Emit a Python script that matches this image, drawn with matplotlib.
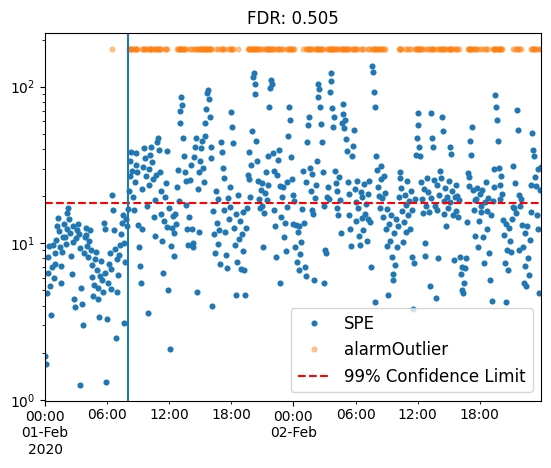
import numpy as np
import pandas as pd
import matplotlib
matplotlib.use('Agg')
import matplotlib.pyplot as plt
import matplotlib.dates as mdates
from matplotlib.ticker import FuncFormatter

start_time = '2020-02-01 00:00'
fault_time = '2020-02-01 08:00'
sample_step = '5min'
confidence_limit = 18.0
alarm_level = 175.0
fdr = 0.505

# SPE statistic, one row per hour (12 samples, every 5 minutes)
spe_values = [
    1.9, 1.7, 4.8, 6.5, 8.2, 9.6, 5.3, 3.5, 7.1, 9.8, 6.0, 7.4,
    8.6, 10.5, 12.8, 14.6, 11.9, 9.4, 7.2, 5.6, 8.8, 10.9, 13.3, 11.0,
    9.9, 12.4, 15.5, 16.8, 14.2, 11.6, 8.3, 6.4, 10.2, 12.9, 4.4, 3.9,
    10.8, 12.1, 13.2, 11.4, 9.3, 1.25, 5.2, 4.1, 3.0, 8.7, 10.9, 12.6,
    11.3, 9.6, 8.2, 10.4, 12.2, 9.0, 7.3, 6.1, 4.6, 5.4, 7.9, 8.8,
    6.7, 5.2, 4.4, 3.4, 6.2, 7.7, 5.8, 4.9, 13.5, 12.3, 6.5, 1.3,
    3.3, 5.6, 7.4, 8.6, 6.8, 5.1, 20.3, 16.4, 12.1, 9.2, 2.5, 7.9,
    4.9, 6.3, 8.4, 9.8, 11.5, 13.4, 15.2, 3.1, 10.1, 7.6, 14.3, 12.8,
    16.5, 21.4, 26.8, 33.5, 38.2, 29.1, 19.7, 16.2, 24.5, 31.8, 37.5, 28.6,
    13.1, 9.4, 7.2, 5.6, 12.4, 22.3, 30.5, 40.6, 35.2, 26.9, 17.4, 3.6,
    23.6, 29.8, 36.4, 41.2, 33.1, 25.7, 14.8, 11.2, 18.9, 27.3, 44.6, 47.2,
    39.5, 28.4, 21.6, 15.3, 10.4, 6.5, 13.8, 19.6, 24.2, 12.7, 38.8, 5.0,
    16.8, 2.1, 9.6, 12.5, 14.9, 8.3, 11.7, 15.4, 13.2, 22.8, 29.4, 18.6,
    58.4, 70.2, 85.6, 76.3, 47.1, 36.2, 28.5, 24.9, 17.6, 12.3, 9.7, 14.8,
    25.3, 31.7, 12.4, 10.1, 9.5, 35.6, 41.4, 46.8, 4.9, 22.1, 28.3, 11.8,
    33.7, 40.8, 45.2, 30.1, 24.6, 48.3, 58.7, 72.4, 90.5, 95.2, 83.6, 64.1,
    41.2, 35.0, 4.0, 16.1, 11.4, 8.7, 21.6, 13.5, 9.9, 19.2, 12.2, 7.4,
    44.6, 38.1, 30.4, 26.2, 16.3, 11.8, 8.4, 6.9, 19.5, 14.2, 22.7, 17.1,
    69.3, 55.1, 43.7, 12.6, 9.8, 4.7, 15.3, 7.6, 20.4, 10.7, 13.9, 6.8,
    11.5, 15.8, 8.9, 6.7, 4.7, 12.6, 16.9, 27.3, 38.5, 25.6, 19.8, 31.4,
    52.1, 115.4, 122.3, 104.6, 90.2, 44.8, 33.6, 25.1, 19.3, 16.7, 21.8, 17.2,
    24.3, 9.5, 15.6, 20.9, 28.4, 18.8, 23.5, 36.2, 73.8, 98.4, 110.2, 104.1,
    37.6, 29.1, 16.4, 12.8, 8.2, 27.4, 33.8, 39.2, 23.1, 5.6, 14.7, 19.6,
    22.8, 10.9, 13.4, 8.9, 17.1, 24.6, 48.2, 74.1, 61.5, 35.3, 25.9, 13.2,
    20.3, 18.7, 9.4, 13.1, 7.6, 11.8, 6.7, 12.9, 8.5, 10.2, 16.5, 28.9,
    13.4, 7.1, 6.2, 24.7, 44.5, 56.9, 64.2, 30.1, 21.4, 16.2, 27.6, 15.3,
    5.8, 19.4, 23.6, 33.4, 85.3, 104.7, 96.1, 74.2, 57.8, 44.6, 28.7, 17.3,
    5.6, 9.0, 8.7, 19.6, 22.9, 19.1, 92.8, 121.6, 108.4, 73.5, 55.2, 63.7,
    29.1, 24.3, 16.8, 21.7, 15.2, 26.4, 18.9, 11.6, 58.3, 77.6, 66.4, 54.7,
    61.2, 46.3, 38.8, 24.5, 20.7, 15.1, 12.4, 9.6, 36.1, 41.7, 52.8, 22.3,
    18.4, 13.8, 25.1, 16.9, 11.2, 9.8, 21.3, 14.6, 19.7, 12.1, 23.8, 15.4,
    17.9, 10.3, 20.6, 14.2, 24.9, 13.6, 7.0, 136.2, 123.4, 92.1, 74.5, 4.2,
    36.3, 29.4, 22.7, 20.1, 16.8, 31.2, 25.6, 19.4, 14.7, 26.8, 20.8, 12.3,
    16.6, 9.6, 4.7, 13.2, 10.4, 15.1, 8.2, 6.4, 5.8, 11.7, 7.3, 14.3,
    9.5, 12.9, 19.8, 28.7, 26.2, 22.4, 16.1, 10.2, 13.6, 20.3, 17.5, 11.8,
    24.9, 15.2, 18.6, 12.4, 21.7, 16.3, 8.2, 3.8, 7.5, 19.3, 36.4, 47.1,
    68.3, 57.2, 41.4, 36.2, 24.7, 19.3, 15.6, 22.3, 10.1, 8.3, 17.4, 26.1,
    21.2, 15.8, 5.3, 19.5, 68.2, 46.9, 41.3, 25.3, 17.2, 4.5, 23.7, 16.4,
    8.0, 20.2, 28.9, 26.1, 64.3, 52.0, 18.5, 15.3, 22.6, 12.9, 19.8, 16.7,
    24.8, 18.4, 41.2, 37.1, 21.6, 15.2, 7.8, 19.6, 23.4, 16.0, 20.1, 14.8,
    18.9, 8.2, 6.4, 5.0, 7.1, 4.8, 5.6, 6.9, 8.1, 13.7, 28.1, 23.2,
    26.3, 44.8, 36.4, 55.1, 21.9, 16.4, 18.8, 11.2, 19.2, 22.5, 9.5, 13.9,
    20.6, 15.9, 17.3, 21.8, 11.0, 7.5, 18.3, 24.7, 16.1, 12.3, 19.4, 8.6,
    5.8, 15.2, 4.3, 18.7, 29.6, 22.9, 88.1, 74.3, 61.2, 45.1, 30.2, 23.4,
    19.1, 26.7, 20.5, 14.0, 11.3, 7.5, 13.2, 4.2, 9.1, 6.7, 12.6, 10.4,
    8.8, 14.3, 17.0, 31.2, 16.8, 24.3, 15.6, 71.0, 53.2, 9.0, 20.4, 17.3,
    19.2, 13.0, 9.4, 5.6, 11.7, 7.2, 5.3, 12.8, 8.1, 6.3, 10.5, 15.9,
    23.5, 50.3, 39.4, 36.1, 26.4, 23.1, 15.2, 12.3, 29.7, 4.8, 21.8, 30.6,
]

times = pd.date_range(start_time, periods=len(spe_values), freq=sample_step)
spe = pd.Series(spe_values, index=times)
# samples above the limit are flagged as alarms
alarm = spe[spe > confidence_limit]

fig = plt.figure(figsize=(5.51, 4.68), dpi=100)
ax = fig.add_axes([0.0817, 0.1442, 0.9001, 0.7859])

ax.plot(spe.index, spe.values, 'o', ms=4.4, mew=0, color='C0', label='SPE')
ax.plot(alarm.index, np.full(len(alarm), alarm_level), 'o', ms=4.4, mew=0,
        color='C1', alpha=0.5, label='alarmOutlier')
ax.axhline(confidence_limit, color='r', linestyle='--', label='99% Confidence Limit')
ax.axvline(pd.Timestamp(fault_time), color='C0')

ax.set_yscale('log')
ax.set_ylim(0.99, 221)
ax.set_xlim(times[0], times[-1])


def day_label(x, pos):
    d = mdates.num2date(x)
    if pos == 0:
        return d.strftime('%H:%M\n%d-%b\n%Y')
    return d.strftime('%H:%M\n%d-%b')


ax.xaxis.set_major_locator(mdates.DayLocator())
ax.xaxis.set_major_formatter(FuncFormatter(day_label))
ax.xaxis.set_minor_locator(mdates.HourLocator(byhour=[6, 12, 18]))
ax.xaxis.set_minor_formatter(mdates.DateFormatter('%H:%M'))

ax.set_title(f'FDR: {fdr}')
ax.legend(loc='lower right', fontsize=12)

fig.savefig('out.png', dpi=100)
